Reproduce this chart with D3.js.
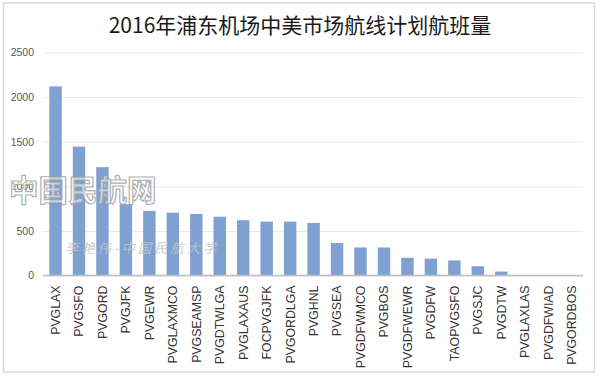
<!DOCTYPE html>
<html>
<head>
<meta charset="utf-8">
<script src="https://cdn.jsdelivr.net/npm/d3@7"></script>
<style>
  html, body { margin: 0; padding: 0; background: #fff; }
  svg { display: block; }
</style>
</head>
<body>
<svg id="chart" width="600" height="379"></svg>
<script>
const title = "2016年浦东机场中美市场航线计划航班量";
const categories = ["PVGLAX","PVGSFO","PVGORD","PVGJFK","PVGEWR","PVGLAXMCO","PVGSEAMSP","PVGDTWLGA","PVGLAXAUS","FOCPVGJFK","PVGORDLGA","PVGHNL","PVGSEA","PVGDFWMCO","PVGBOS","PVGDFWEWR","PVGDFW","TAOPVGSFO","PVGSJC","PVGDTW","PVGLAXLAS","PVGDFWIAD","PVGORDBOS"];
const values = [2120,1445,1215,800,725,705,690,660,620,605,605,590,365,315,315,200,190,170,105,45,0,0,0];
const yTicks = [0,500,1000,1500,2000,2500];
const watermark1 = "中国民航网";
const watermark2 = "李艳伟-中国民航大学";

const svg = d3.select("#chart");

// outer border
svg.append("rect").attr("x",3.5).attr("y",3).attr("width",591).attr("height",369)
  .attr("fill","#fff").attr("stroke","#d9d9d9").attr("stroke-width",1.5);

const x = d3.scaleBand().domain(categories).range([43.8, 583.4]).paddingInner(0.47).paddingOuter(0.235);
const y = d3.scaleLinear().domain([0,2500]).range([275.6, 52.5]);

// title
svg.append("text").attr("x",300).attr("y",32.5).attr("text-anchor","middle")
  .attr("font-family","'Noto Sans CJK SC', sans-serif").attr("font-size",21)
  .attr("fill","#1a1a1a").text(title);

// gridlines
const yAxis = d3.axisLeft(y).tickValues(yTicks).tickSize(-(583-43)).tickPadding(9).tickFormat(d3.format("d"));
const gy = svg.append("g").attr("transform","translate(43,0)").call(yAxis);
gy.select(".domain").remove();
gy.selectAll(".tick line").attr("stroke","#e8e8e8").attr("stroke-width",1);
gy.selectAll(".tick text").attr("font-family","'Liberation Sans', Arial, sans-serif")
  .attr("font-size",10.5).attr("fill","#595959");

// bars
svg.append("g").selectAll("rect").data(categories).join("rect")
  .attr("x", d => x(d))
  .attr("width", x.bandwidth())
  .attr("y", (d,i) => y(values[i]))
  .attr("height", (d,i) => y(0) - y(values[i]))
  .attr("fill", "#7ea1d1");

// x axis
const xAxis = d3.axisBottom(x).tickSize(0).tickPadding(0);
const gx = svg.append("g").attr("transform",`translate(0,${y(0)})`).call(xAxis);
gx.select(".domain").attr("stroke","#bfbfbf").attr("stroke-width",1.5)
  .attr("d","M43,0H583");
gx.selectAll(".tick text")
  .attr("transform","rotate(-90)")
  .attr("text-anchor","end")
  .attr("x",-10).attr("y",0).attr("dy","0.36em")
  .attr("font-family","'Liberation Sans', Arial, sans-serif")
  .attr("font-size",12.3).attr("fill","#333");

// watermarks
svg.append("text").attr("x",9).attr("y",201)
  .attr("font-family","'Noto Sans CJK SC', sans-serif").attr("font-weight","bold")
  .attr("font-size",29.5).attr("fill","#ffffff").attr("fill-opacity",0.55)
  .attr("stroke","#9a9a9a").attr("stroke-width",1.2).attr("stroke-opacity",0.8)
  .text(watermark1);
svg.append("text").attr("x",65).attr("y",253)
  .attr("font-family","'Noto Sans CJK SC', sans-serif").attr("font-style","italic")
  .attr("font-size",13.5).attr("letter-spacing",2.8)
  .attr("fill","#c4c4c4").attr("fill-opacity",0.85)
  .text(watermark2);
</script>
</body>
</html>
